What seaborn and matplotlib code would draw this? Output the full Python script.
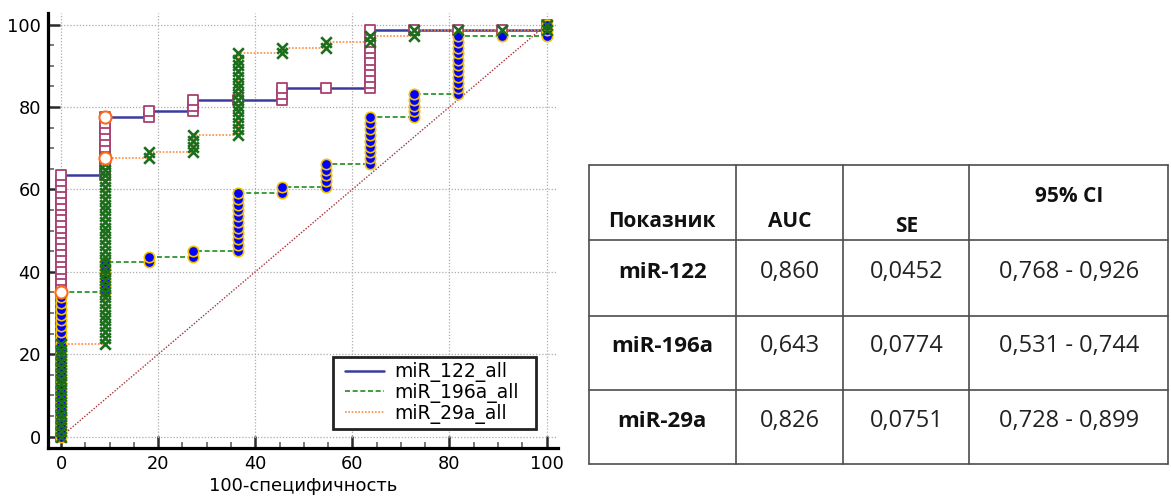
import matplotlib
matplotlib.use("Agg")
import matplotlib.pyplot as plt
from matplotlib.lines import Line2D
from matplotlib.patches import Rectangle
from matplotlib.ticker import MultipleLocator
import pandas as pd
import seaborn as sns

# ---------------------------------------------------------------------------
# ROC data: 100 - specificity (%) of every ROC column (11 control cases)
fpr_cols = [0.0, 9.09, 18.18, 27.27, 36.36, 45.45, 54.55, 63.64, 72.73, 81.82, 90.91, 100.0]

# sensitivity (%) of the ROC points found at each column
sens_122 = [
    [0.0, 1.4, 2.8, 4.2, 5.6, 7.0, 8.5, 9.9, 11.3, 12.7, 14.1, 15.5, 16.9, 18.3, 19.7, 21.1,
     22.5, 23.9, 25.4, 26.8, 28.2, 29.6, 31.0, 32.4, 33.8, 35.2, 36.6, 38.0, 39.4, 40.8, 42.3,
     43.7, 45.1, 46.5, 47.9, 49.3, 50.7, 52.1, 53.5, 54.9, 56.3, 57.7, 59.2, 60.6, 62.0, 63.4],
    [63.4, 64.8, 66.2, 67.6, 69.0, 70.4, 71.8, 73.2, 74.6, 76.1, 77.5],
    [77.5, 78.9],
    [78.9, 80.3, 81.7],
    [81.7],
    [81.7, 83.1, 84.5],
    [84.5],
    [84.5, 85.9, 87.3, 88.7, 90.1, 91.5, 93.0, 94.4, 95.8, 97.2, 98.6],
    [98.6],
    [98.6],
    [98.6],
    [98.6, 100.0],
]

sens_196a = [
    [0.0, 1.4, 2.8, 4.2, 5.6, 7.0, 8.5, 9.9, 11.3, 12.7, 14.1, 15.5, 16.9, 18.3, 19.7, 21.1,
     22.5, 23.9, 25.4, 26.8, 28.2, 29.6, 31.0, 32.4, 33.8, 35.2],
    [35.2, 36.6, 38.0, 39.4, 40.8, 42.3],
    [42.3, 43.7],
    [43.7, 45.1],
    [45.1, 46.5, 47.9, 49.3, 50.7, 52.1, 53.5, 54.9, 56.3, 57.7, 59.2],
    [59.2, 60.6],
    [60.6, 62.0, 63.4, 64.8, 66.2],
    [66.2, 67.6, 69.0, 70.4, 71.8, 73.2, 74.6, 76.1, 77.5],
    [77.5, 78.9, 80.3, 81.7, 83.1],
    [83.1, 84.5, 85.9, 87.3, 88.7, 90.1, 91.5, 93.0, 94.4, 95.8, 97.2],
    [97.2],
    [97.2, 98.6, 100.0],
]

sens_29a = [
    [0.0, 1.4, 2.8, 4.2, 5.6, 7.0, 8.5, 9.9, 11.3, 12.7, 14.1, 15.5, 16.9, 18.3, 19.7, 21.1, 22.5],
    [22.5, 23.9, 25.4, 26.8, 28.2, 29.6, 31.0, 32.4, 33.8, 35.2, 36.6, 38.0, 39.4, 40.8, 42.3,
     43.7, 45.1, 46.5, 47.9, 49.3, 50.7, 52.1, 53.5, 54.9, 56.3, 57.7, 59.2, 60.6, 62.0, 63.4,
     64.8, 66.2, 67.6],
    [67.6, 69.0],
    [69.0, 70.4, 71.8, 73.2],
    [73.2, 74.6, 76.1, 77.5, 78.9, 80.3, 81.7, 83.1, 84.5, 85.9, 87.3, 88.7, 90.1, 91.5, 93.0],
    [93.0, 94.4],
    [94.4, 95.8],
    [95.8, 97.2],
    [97.2, 98.6],
    [98.6],
    [98.6],
    [98.6, 100.0],
]

# optimal cut-off (Youden index) of each curve: miR-122, miR-196a, miR-29a
youden_fpr = [9.09, 0.0, 9.09]
youden_sens = [77.5, 35.2, 67.6]

chance_line = [0.0, 100.0]

legend_labels = ["miR_122_all", "miR_196a_all", "miR_29a_all"]

# summary table
table_header = ["Показник", "AUC", "SE", "95% CI"]
table_names = ["miR-122", "miR-196a", "miR-29a"]
table_auc = ["0,860", "0,643", "0,826"]
table_se = ["0,0452", "0,0774", "0,0751"]
table_ci = ["0,768 - 0,926", "0,531 - 0,744", "0,728 - 0,899"]


def roc_frame(columns):
    rows = [(x, y) for x, ys in zip(fpr_cols, columns) for y in ys]
    return pd.DataFrame(rows, columns=["fpr", "sens"])


df122 = roc_frame(sens_122)
df196 = roc_frame(sens_196a)
df29 = roc_frame(sens_29a)
df_youden = pd.DataFrame({"fpr": youden_fpr, "sens": youden_sens})
df_chance = pd.DataFrame({"fpr": chance_line, "sens": chance_line})

# ---------------------------------------------------------------------------
sns.set_style("white")
plt.rcParams["font.family"] = ["DejaVu Sans"]
plt.rcParams["text.color"] = "black"
plt.rcParams["axes.labelcolor"] = "black"
plt.rcParams["xtick.color"] = "black"
plt.rcParams["ytick.color"] = "black"

W, H = 1171, 498
fig = plt.figure(figsize=(W / 100, H / 100), dpi=100)
ax = fig.add_axes([47.7 / W, 50 / H, 510 / W, 435 / H])

navy = "#3b3b9f"
square_edge = "#a8406f"
green = "#1e8c1e"
orange = "#ff8a3d"
x_green = "#1b6e1b"

# chance diagonal
sns.lineplot(data=df_chance, x="fpr", y="sens", color="#a8323c", linewidth=1.0,
             linestyle=(0, (1, 1.2)), sort=False, estimator=None, ax=ax, zorder=1.5)

# ROC step lines
sns.lineplot(data=df122, x="fpr", y="sens", color=navy, linewidth=1.8,
             sort=False, estimator=None, ax=ax, zorder=2.0)
sns.lineplot(data=df196, x="fpr", y="sens", color=green, linewidth=1.2,
             linestyle=(0, (3.0, 1.6)), sort=False, estimator=None, ax=ax, zorder=2.1)
sns.lineplot(data=df29, x="fpr", y="sens", color=orange, linewidth=1.2,
             linestyle=(0, (1, 1)), sort=False, estimator=None, ax=ax, zorder=2.2)

# ROC point markers
sns.scatterplot(data=df122, x="fpr", y="sens", marker="s", s=52, facecolor="white",
                edgecolor=square_edge, linewidth=1.3, ax=ax, zorder=3.0, legend=False)
sns.scatterplot(data=df196, x="fpr", y="sens", marker="o", s=56, facecolor="#0000ff",
                edgecolor="#f2c200", linewidth=1.2, ax=ax, zorder=3.1, legend=False)
sns.scatterplot(data=df29, x="fpr", y="sens", marker="x", s=58, color=x_green,
                edgecolor=None, linewidth=1.9, ax=ax, zorder=3.2, legend=False)
sns.scatterplot(data=df_youden, x="fpr", y="sens", marker="o", s=76, facecolor="white",
                edgecolor="#ff6a1a", linewidth=1.5, ax=ax, zorder=4.0, legend=False)

ax.set_xlim(-2.75, 102.3)
ax.set_ylim(-2.75, 102.8)
for axis in (ax.xaxis, ax.yaxis):
    axis.set_major_locator(MultipleLocator(20))
    axis.set_minor_locator(MultipleLocator(5))

ax.grid(True, which="major", color="#acacac", linestyle=(0, (1, 1.5)), linewidth=0.9)
ax.set_axisbelow(True)

for side in ("top", "right"):
    ax.spines[side].set_visible(False)
for side in ("left", "bottom"):
    ax.spines[side].set_linewidth(2.3)
    ax.spines[side].set_color("black")

ax.tick_params(which="both", direction="in", left=True, bottom=True, top=False, right=False)
ax.tick_params(which="major", length=8.5, width=1.8, color="#2a2a2a",
               labelsize=12.8, labelcolor="black", pad=5)
ax.tick_params(which="minor", length=4.5, width=1.1, color="#555555")

ax.set_xlabel("100-специфичность", fontsize=13, labelpad=3, color="black")
ax.set_ylabel("")

# legend: frame drawn as its own box, entries placed inside it
ax.add_patch(Rectangle((0.5594, 0.0437), 0.9575 - 0.5594, 0.2092 - 0.0437,
                       transform=ax.transAxes, facecolor="white", edgecolor="#222222",
                       linewidth=2.0, zorder=4.5, clip_on=False))
handles = [
    Line2D([], [], color=navy, linewidth=1.8),
    Line2D([], [], color=green, linewidth=1.2, linestyle=(0, (3.0, 1.6))),
    Line2D([], [], color=orange, linewidth=1.2, linestyle=(0, (1, 1))),
]
leg = ax.legend(handles, legend_labels, loc="center left", bbox_to_anchor=(0.583, 0.1264),
                borderaxespad=0, borderpad=0, frameon=False, fontsize=13.5,
                handlelength=2.1, handletextpad=0.5, labelspacing=0.04)
leg.set_zorder(5)

# ---------------------------------------------------------------------------
# summary table drawn in pixel coordinates
tax = fig.add_axes([0, 0, 1, 1])
tax.set_xlim(0, W)
tax.set_ylim(H, 0)
tax.axis("off")

col_edges = [589, 735.7, 843.3, 969.4, 1168]
row_edges = [165, 240, 315.5, 390, 464]
line_kw = dict(color="#4d4d4d", linewidth=1.2)
for yv in row_edges:
    tax.plot([col_edges[0], col_edges[-1]], [yv, yv], **line_kw)
for xv in col_edges:
    tax.plot([xv, xv], [row_edges[0], row_edges[-1]], **line_kw)

col_centers = [(a + b) / 2 for a, b in zip(col_edges[:-1], col_edges[1:])]
table_font = ["Open Sans", "DejaVu Sans"]
header_baselines = [227, 227, 231.7, 201.7]
for xc, yb, txt in zip(col_centers, header_baselines, table_header):
    tax.text(xc, yb, txt, ha="center", va="baseline", fontsize=15, fontweight="bold",
             family=table_font, color="#111111")

row_baselines = [277.7, 351.7, 426.7]
for i, yb in enumerate(row_baselines):
    tax.text(col_centers[0], yb, table_names[i], ha="center", va="baseline", fontsize=16,
             fontweight="bold", family=table_font, color="#111111")
    for xc, vals in zip(col_centers[1:], (table_auc, table_se, table_ci)):
        tax.text(xc, yb, vals[i], ha="center", va="baseline", fontsize=17,
                 family=table_font, color="#222222")

fig.savefig("out.png", dpi=100)
